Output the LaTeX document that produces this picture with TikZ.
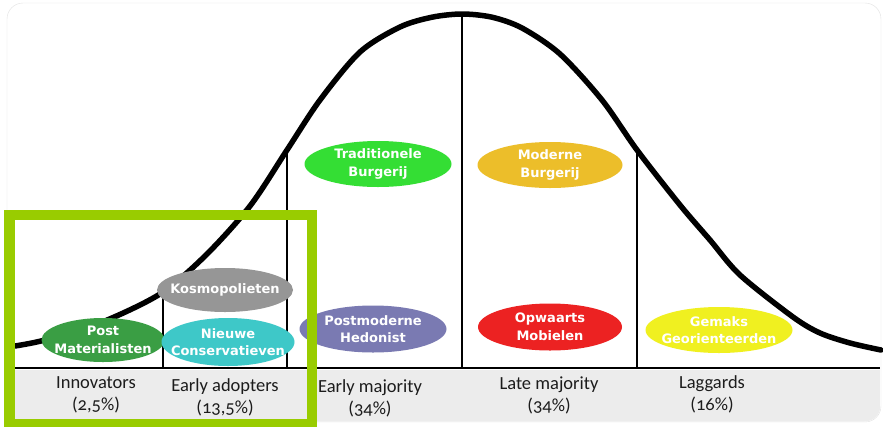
\documentclass[tikz,border=0pt]{standalone}
\usepackage{fontspec}
\setmainfont{Carlito}[Numbers=OldStyle]
\newfontfamily\ellfont{DejaVu Sans}
\usetikzlibrary{shapes.geometric, positioning}
\definecolor{panelgray}{RGB}{224,224,224}
\definecolor{bandgray}{RGB}{236,236,236}
\definecolor{labelgray}{RGB}{28,28,28}
\definecolor{focusgreen}{RGB}{153,204,0}
\definecolor{postgreen}{RGB}{58,158,68}
\definecolor{kosmogray}{RGB}{150,150,150}
\definecolor{nieuwcyan}{RGB}{62,200,200}
\definecolor{tradgreen}{RGB}{52,222,52}
\definecolor{modgold}{RGB}{236,190,42}
\definecolor{pmslate}{RGB}{122,122,178}
\definecolor{opwred}{RGB}{236,34,34}
\definecolor{gemyellow}{RGB}{240,240,32}
\tikzset{
    segment/.style={ellipse, inner xsep=-30pt, inner ysep=-12pt, text=white, font=\ellfont\bfseries\fontsize{13}{17.5}\selectfont, align=center, minimum width=145pt, minimum height=46pt},
    catlabel/.style={font=\fontsize{18.5}{22}\selectfont, text=labelgray, align=center},
    bell/.style={line width=5.5pt, black, line cap=round},
    divider/.style={line width=1.8pt, black},
    focusframe/.style={line width=10.5pt, focusgreen},
}
\begin{document}
\begin{tikzpicture}[x=1pt, y=-1pt]
    \useasboundingbox (0,0) rectangle (883,426);
    % panel and bottom band
    \draw[panelgray, fill=white, rounded corners=16pt] (7,3) rectangle (881,422);
    \begin{scope}
        \clip[rounded corners=16pt] (7.5,3.5) rectangle (880.5,421.5);
        \fill[bandgray] (7,370) rectangle (881,422);
    \end{scope}
    \coordinate (base l) at (8,368);
    \coordinate (base r) at (880,368);
    \draw[line width=2.2pt] (base l) -- (base r);
    % bell curve
    \draw[bell] plot[smooth] coordinates {(15,346) (45,340) (100,323) (160,294) (205,256) (250,206) (287,150) (320,100) (360,52) (400,27) (432,17.2) (462,14) (492,17.2) (522,28) (560,54) (602,100) (637,150) (680,205) (710,240) (740,275) (793,317) (820,333) (850,343) (881,350)};
    % dividers
    \foreach \x/\y [count=\i] in {163/294, 287/150, 462/14, 637/150} {
        \coordinate (top\i) at (\x,\y);
        \coordinate (bot\i) at (\x,368);
        \draw[divider] (top\i) -- (bot\i);
    }
    % segments
    \node[segment, fill=postgreen, minimum width=123pt, minimum height=44pt] (postmat) at (103,340) {Post\\Materialisten};
    \node[segment, fill=kosmogray, minimum width=136pt, minimum height=44pt] (kosmo) at (225,290) {Kosmopolieten};
    \node[segment, fill=nieuwcyan, minimum width=133pt, minimum height=48pt] (nieuwcons) at (228,342) {Nieuwe\\Conservatieven};
    \node[segment, fill=tradgreen, minimum width=147pt] (tradburg) at (378,164) {Traditionele\\Burgerij};
    \node[segment, fill=modgold] (modburg) at (550,165) {Moderne\\Burgerij};
    \node[segment, fill=pmslate, minimum width=147pt, minimum height=47pt] (pmhed) at (373,329) {Postmoderne\\Hedonist};
    \node[segment, fill=opwred, minimum width=144pt, minimum height=47pt] (opmob) at (550,327) {Opwaarts\\Mobielen};
    \node[segment, fill=gemyellow, minimum width=147pt] (gemgeo) at (719,330) {Gemaks\\Georienteerden};
    % categories
    \node[catlabel] (innov) at (96,395) {Innovators\\(2,5\%)};
    \node[catlabel] (earlyad) at (225,397) {Early adopters\\(13,5\%)};
    \node[catlabel] (earlymaj) at (370,398) {Early majority\\(34\%)};
    \node[catlabel] (latemaj) at (549,395) {Late majority\\(34\%)};
    \node[catlabel] (lagg) at (712,394) {Laggards\\(16\%)};
    % highlight
    \draw[focusframe] (9.5,215) rectangle (312,424);
\end{tikzpicture}
\end{document}
